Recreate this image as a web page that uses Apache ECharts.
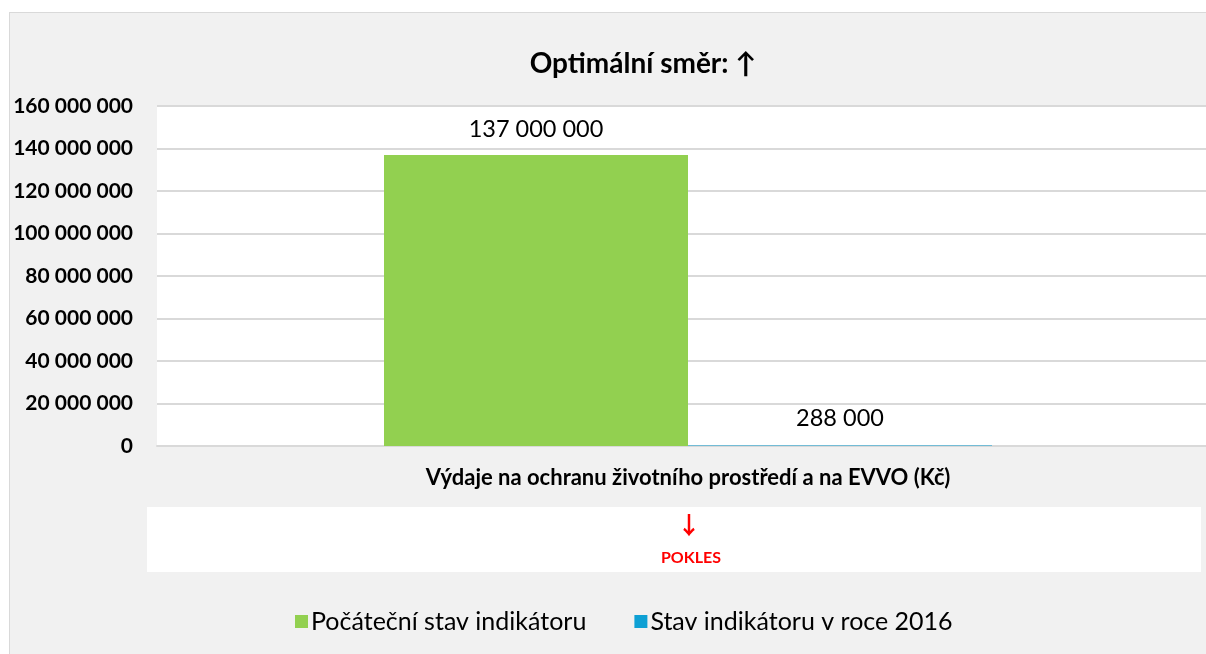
<!DOCTYPE html>
<html>
<head>
<meta charset="utf-8">
<script src="https://cdn.jsdelivr.net/npm/echarts@6/dist/echarts.min.js"></script>
<style>
html,body{margin:0;padding:0;width:1206px;height:654px;overflow:hidden;background:#fff;}
#frame{position:absolute;left:9px;top:12px;width:1220px;height:660px;background:#f1f1f1;border:1px solid #d9d9d9;box-sizing:border-box;}
#chart{position:absolute;left:0;top:0;width:1220px;height:654px;}
</style>
</head>
<body>
<div id="frame"></div>
<div id="chart"></div>
<script>
const categories = ['Výdaje na ochranu životního prostředí a na EVVO (Kč)'];
const seriesNames = ['Počáteční stav indikátoru', 'Stav indikátoru v roce 2016'];
const initialValues = [137000000];
const values2016 = [288000];
const seriesColors = ['#92d050', '#0ea0d4'];
const yTicks = [0, 20000000, 40000000, 60000000, 80000000, 100000000, 120000000, 140000000, 160000000];
const titleText = 'Optimální směr: ↑';
const trendArrow = '↓';
const trendText = 'POKLES';

function fmt(v) {
  return String(Math.round(v)).replace(/\B(?=(\d{3})+(?!\d))/g, ' ');
}

const FONT = 'Lato, "Open Sans", sans-serif';
const chart = echarts.init(document.getElementById('chart'), null, {renderer: 'canvas'});
chart.setOption({
  backgroundColor: 'transparent',
  animation: false,
  textStyle: {fontFamily: FONT},
  title: {
    text: titleText,
    left: 638,
    top: 45,
    textAlign: 'center',
    textStyle: {fontFamily: FONT, fontSize: 28, fontWeight: 'bold', color: '#000'}
  },
  grid: {
    left: 157, top: 106, right: 1, height: 340,
    show: true, backgroundColor: '#ffffff', borderWidth: 0,
    containLabel: false
  },
  legend: {
    left: 290, top: 604,
    itemWidth: 13, itemHeight: 13, itemGap: 48,
    icon: 'rect',
    textStyle: {fontFamily: FONT, fontSize: 25, color: '#000', padding: [0, 0, 0, -2]},
    data: seriesNames
  },
  xAxis: {
    type: 'category',
    data: categories,
    axisTick: {show: false},
    axisLine: {show: true, lineStyle: {color: '#d9d9d9', width: 2}},
    axisLabel: {margin: 21, fontFamily: FONT, fontSize: 22, fontWeight: 'bold', color: '#000'}
  },
  yAxis: {
    type: 'value',
    min: yTicks[0],
    max: yTicks[yTicks.length - 1],
    interval: yTicks[1] - yTicks[0],
    axisLine: {show: false},
    axisTick: {show: false},
    splitLine: {lineStyle: {color: '#d9d9d9', width: 2}},
    axisLabel: {margin: 24, fontFamily: FONT, fontSize: 21, fontWeight: 'bold', color: '#000', formatter: fmt}
  },
  series: [
    {
      name: seriesNames[0], type: 'bar', data: initialValues,
      barWidth: 304, barGap: '0%',
      itemStyle: {color: seriesColors[0]},
      label: {show: true, position: 'top', distance: 13, fontFamily: FONT, fontSize: 23.5, color: '#000', formatter: p => fmt(p.value)}
    },
    {
      name: seriesNames[1], type: 'bar', data: values2016,
      barWidth: 304, barGap: '0%',
      itemStyle: {color: seriesColors[1]},
      label: {show: true, position: 'top', distance: 15, fontFamily: FONT, fontSize: 23.5, color: '#000', formatter: p => fmt(p.value)}
    }
  ],
  graphic: [
    {type: 'rect', left: 147, top: 507, shape: {width: 1054, height: 65}, style: {fill: '#ffffff'}, z: -10},
    {type: 'text', x: 689, y: 525, style: {text: trendArrow, fill: '#ff0000', font: 'bold 24px "Noto Sans CJK SC", "DejaVu Sans", sans-serif', align: 'center', verticalAlign: 'middle'}},
    {type: 'text', x: 691, y: 558, style: {text: trendText, fill: '#ff0000', font: 'bold 16px ' + FONT, align: 'center', verticalAlign: 'middle'}}
  ]
});
</script>
</body>
</html>
